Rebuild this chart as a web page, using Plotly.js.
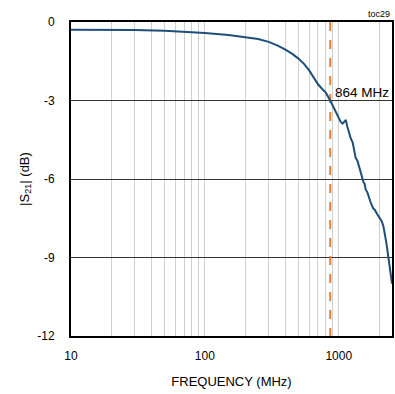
<!DOCTYPE html>
<html>
<head>
<meta charset="utf-8">
<script src="https://cdn.plot.ly/plotly-3.0.1.min.js"></script>
<style>html,body{margin:0;padding:0;background:#fff;}#chart{width:395px;height:394px;}</style>
</head>
<body>
<div id="chart"></div>
<script>
const freqMHz = [10, 20, 30, 50, 70, 100, 150, 200, 250, 300, 350, 400, 450, 500, 550, 600, 650, 700, 750, 800, 864, 900, 950, 1000, 1035, 1070, 1100, 1130, 1160, 1200, 1230, 1270, 1300, 1340, 1380, 1420, 1450, 1480, 1530, 1560, 1590, 1640, 1690, 1720, 1750, 1810, 1860, 1915, 1950, 1980, 2040, 2100, 2160, 2210, 2250, 2300, 2340, 2380, 2420, 2460, 2500];
const s21dB = [-0.30, -0.30, -0.31, -0.33, -0.36, -0.42, -0.50, -0.57, -0.65, -0.76, -0.90, -1.06, -1.22, -1.40, -1.60, -1.84, -2.15, -2.38, -2.55, -2.70, -3.00, -3.20, -3.45, -3.70, -3.82, -3.88, -3.80, -3.74, -4.00, -4.30, -4.45, -4.60, -4.85, -5.20, -5.30, -5.55, -5.62, -5.88, -6.12, -6.18, -6.40, -6.52, -6.80, -6.85, -6.95, -7.12, -7.18, -7.32, -7.36, -7.42, -7.52, -7.62, -7.82, -8.05, -8.33, -8.65, -8.97, -9.30, -9.60, -9.80, -10.00];
const markerFreq = 864;
const markerLabel = "864 MHz";
const yTicks = [0, -3, -6, -9, -12];
const xGrid = [10,20,30,40,50,60,70,80,90,100,200,300,400,500,600,700,800,900,1000,2000];
const xLabels = {10: "10", 100: "100", 1000: "1000"};

const font = "Liberation Sans, Arial, sans-serif";
const traces = [
  {x: [markerFreq, markerFreq], y: [0, -12], mode: "lines", line: {color: "#ED7D31", width: 2, dash: "dash"}, hoverinfo: "skip"},
  {x: freqMHz, y: s21dB, mode: "lines", line: {color: "#1F4E79", width: 2}}
];
const layout = {
  width: 395, height: 394,
  margin: {l: 71, r: 3, t: 22, b: 58},
  paper_bgcolor: "#fff", plot_bgcolor: "#fff",
  showlegend: false,
  font: {family: font, size: 12, color: "#000"},
  xaxis: {
    type: "log", range: [1, Math.log10(2500)],
    tickvals: xGrid, ticktext: xGrid.map(v => xLabels[v] || ""),
    showgrid: true, gridcolor: "#CFCFCF", gridwidth: 1,
    showline: true, linecolor: "#000", linewidth: 2, mirror: true,
    ticks: "", ticklen: 0, zeroline: false, ticklabelstandoff: 8,
    tickfont: {family: font, size: 12, color: "#000"},
    title: {text: "FREQUENCY (MHz)", font: {family: font, size: 13, color: "#000"}, standoff: 14}
  },
  yaxis: {
    range: [-12, 0], tickvals: yTicks, ticktext: yTicks.map(String),
    showgrid: true, gridcolor: "#333", gridwidth: 1,
    showline: true, linecolor: "#000", linewidth: 2, mirror: true,
    ticks: "", zeroline: false, ticklabelstandoff: 12,
    tickfont: {family: font, size: 12, color: "#000"},
    title: {text: "|S<sub>21</sub>| (dB)", font: {family: font, size: 13, color: "#000"}, standoff: 5}
  },
  annotations: [
    {x: Math.log10(markerFreq), y: -3, xref: "x", yref: "y", text: markerLabel, showarrow: false, xanchor: "left", yanchor: "bottom", xshift: 3, yshift: -1, font: {family: font, size: 13.5, color: "#000"}},
    {x: 1, y: 1, xref: "paper", yref: "paper", text: "toc29", showarrow: false, xanchor: "right", yanchor: "bottom", yshift: 1, font: {family: font, size: 9, color: "#000"}}
  ]
};
Plotly.newPlot("chart", traces, layout, {displayModeBar: false, staticPlot: true});
</script>
</body>
</html>
